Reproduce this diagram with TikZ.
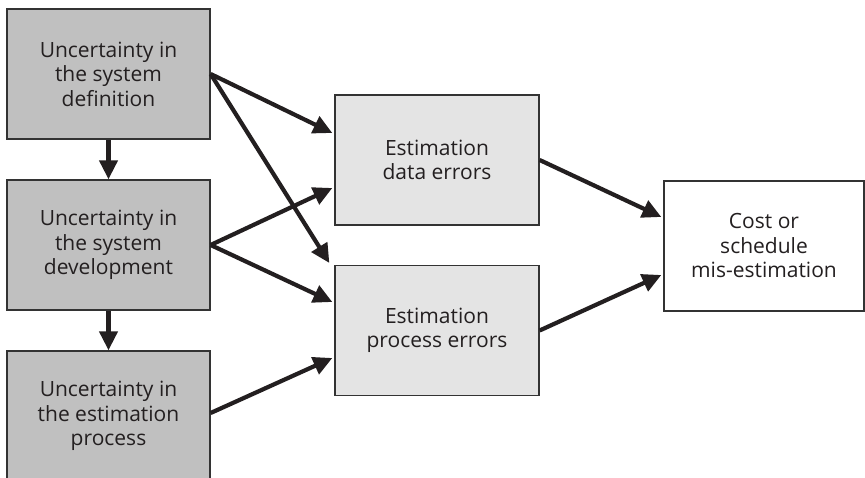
\documentclass[tikz,border=0pt]{standalone}
\usepackage{fontspec}
\setmainfont{Open Sans}
\usetikzlibrary{arrows.meta}
\definecolor{boxline}{HTML}{333333}
\definecolor{darkfill}{HTML}{C0C0C0}
\definecolor{lightfill}{HTML}{E4E4E4}
\definecolor{arrowcol}{HTML}{231F20}
\tikzset{
  box/.style={draw=boxline, line width=1.3pt, inner sep=0pt, minimum height=130pt,
    align=center, font=\fontsize{21}{24.5}\selectfont, text=arrowcol},
  srcbox/.style={box, fill=darkfill, minimum width=203pt},
  midbox/.style={box, fill=lightfill, minimum width=204pt},
  endbox/.style={box, fill=white, minimum width=200pt},
  conn/.style={draw=arrowcol, line width=4.2pt, -{Triangle[length=19pt,width=18pt]}}
}
\begin{document}
\begin{tikzpicture}[x=1pt,y=1pt]
\useasboundingbox (0,0) rectangle (865,478);
\node[srcbox] (b1) at (108.5,404) {Uncertainty in\\the system\\definition};
\node[srcbox] (b2) at (108.5,233) {Uncertainty in\\the system\\development};
\node[srcbox] (b3) at (108.5,62) {Uncertainty in\\the estimation\\process};
\node[midbox] (b4) at (437,318) {Estimation\\data errors};
\node[midbox] (b5) at (437,147.5) {Estimation\\process errors};
\node[endbox] (b6) at (764,232) {Cost or\\schedule\\mis-estimation};
\coordinate (s3) at ([yshift=3pt]b3.east);
\coordinate (t14) at ([shift={(-2pt,27pt)}]b4.west);
\coordinate (t24) at ([shift={(-2pt,-28pt)}]b4.west);
\coordinate (t15) at ([shift={(-5pt,67.5pt)}]b5.west);
\coordinate (t25) at ([shift={(-2pt,28.5pt)}]b5.west);
\coordinate (t35) at ([shift={(-2pt,-27.5pt)}]b5.west);
\coordinate (t46) at ([shift={(-2pt,29pt)}]b6.west);
\coordinate (t56) at ([shift={(-2pt,-29pt)}]b6.west);
\draw[conn] (b1.south) -- (b2.north);
\draw[conn] (b2.south) -- (b3.north);
\draw[conn] (b1.east) -- (t14);
\draw[conn] (b1.east) -- (t15);
\draw[conn] (b2.east) -- (t24);
\draw[conn] (b2.east) -- (t25);
\draw[conn] (s3) -- (t35);
\draw[conn] (b4.east) -- (t46);
\draw[conn] (b5.east) -- (t56);
\end{tikzpicture}
\end{document}
